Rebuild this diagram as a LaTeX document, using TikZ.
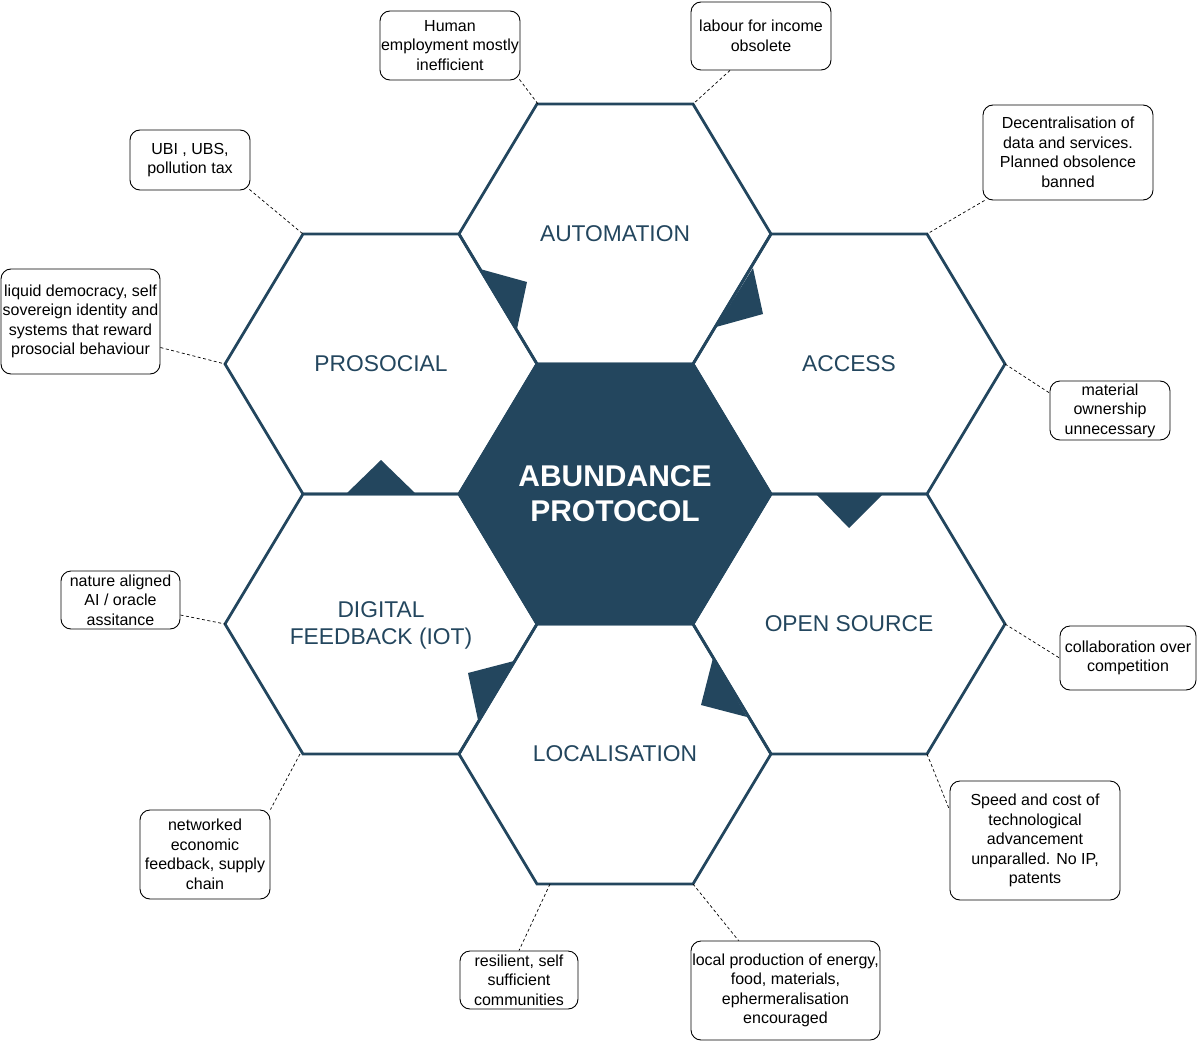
\documentclass[tikz,border=0pt]{standalone}
\usepackage{fontspec}
\setmainfont{Liberation Sans}
\usetikzlibrary{calc}
\definecolor{hexblue}{RGB}{35,70,94}
\newcommand\hexagonat[2][]{\draw[hexline,#1] ($(#2)+(-78,-130)$) -- ++(156,0) -- ++(78,130) -- ++(-78,130) -- ++(-156,0) -- ++(-78,-130) -- cycle;}
\begin{document}
\begin{tikzpicture}[x=1pt,y=-1pt,
  hexline/.style={draw=hexblue,line width=2.8pt,line join=miter},
  notch/.style={fill=hexblue,draw=none},
  box/.style={draw=black,line width=0.9pt,rounded corners=10pt,fill=white,align=center,inner sep=0pt,font=\fontsize{16}{19.5}\selectfont},
  hexlabel/.style={text=hexblue,align=center,font=\fontsize{22.8}{27}\selectfont},
  conn/.style={draw=black,line width=0.7pt,dash pattern=on 3pt off 2.5pt}]
\useasboundingbox (0,0) rectangle (1197,1041);
% hexagon centres
\coordinate (hC) at (615,494);
\coordinate (hA) at (615,234);
\coordinate (hAc) at (849,364);
\coordinate (hO) at (849,624);
\coordinate (hL) at (615,754);
\coordinate (hD) at (381,624);
\coordinate (hP) at (381,364);
% outer hexagons
\hexagonat{hA}
\hexagonat{hAc}
\hexagonat{hO}
\hexagonat{hL}
\hexagonat{hD}
\hexagonat{hP}
% centre hexagon
\hexagonat[fill=hexblue]{hC}
% notches
\fill[notch] (480,269) -- (517,329) -- (527,282) -- cycle;
\fill[notch] (753,268) -- (716,327) -- (763,314) -- cycle;
\fill[notch] (346,494) -- (416,494) -- (381,460) -- cycle;
\fill[notch] (816,494) -- (883,494) -- (849,528) -- cycle;
\fill[notch] (514,661) -- (478,720) -- (468,673) -- cycle;
\fill[notch] (713,658) -- (747,717) -- (701,705) -- cycle;
% labels
\node[text=white,align=center,font=\bfseries\fontsize{30}{35}\selectfont] (center) at (hC) {ABUNDANCE\\PROTOCOL};
\node[hexlabel] (lA) at (hA) {AUTOMATION};
\node[hexlabel] (lAc) at (hAc) {ACCESS};
\node[hexlabel] (lO) at (hO) {OPEN SOURCE};
\node[hexlabel] (lL) at (hL) {LOCALISATION};
\node[hexlabel] (lD) at ($(hD)+(0,1)$) {DIGITAL\\FEEDBACK (IOT)};
\node[hexlabel] (lP) at (hP) {PROSOCIAL};
% vertices used by connectors
\coordinate (autoTL) at (538,104);
\coordinate (autoTR) at (693,104);
\coordinate (accTR) at (927,234);
\coordinate (proTL) at (303,234);
\coordinate (proL) at (225,364);
\coordinate (accR) at (1005,364);
\coordinate (digL) at (225,624);
\coordinate (openR) at (1005,624);
\coordinate (digBL) at (300,754);
\coordinate (openBR) at (927,754);
\coordinate (locB) at (550,884);
\coordinate (locBR) at (693,884);
% boxes
\node[box,minimum width=140pt,minimum height=69pt] (b1) at (450,45.5) {Human\\employment mostly\\inefficient};
\node[box,minimum width=140pt,minimum height=68pt] (b2) at (761,36) {labour for income\\obsolete};
\node[box,minimum width=170pt,minimum height=95pt] (b3) at (1068,152.5) {Decentralisation of\\data and services.\\Planned obsolence\\banned};
\node[box,minimum width=120pt,minimum height=60pt] (b4) at (190,160) {UBI , UBS,\\pollution tax};
\node[box,minimum width=159pt,minimum height=105pt] (b5) at (80.5,321.5) {liquid democracy, self\\sovereign identity and\\systems that reward\\prosocial behaviour};
\node[box,minimum width=120pt,minimum height=59pt] (b6) at (1110,410.5) {material\\ownership\\unnecessary};
\node[box,minimum width=119pt,minimum height=58pt] (b7) at (120.5,600) {nature aligned\\AI / oracle\\assitance};
\node[box,minimum width=136pt,minimum height=64pt] (b8) at (1128,658) {collaboration over\\competition};
\node[box,minimum width=130pt,minimum height=89pt] (b9) at (205,854.5) {networked\\economic\\feedback, supply\\chain};
\node[box,minimum width=170pt,minimum height=119pt] (b10) at (1035,840.5) {Speed and cost of\\technological\\advancement\\unparalled. No IP,\\patents};
\node[box,minimum width=118pt,minimum height=58pt] (b11) at (519,980) {resilient, self\\sufficient\\communities};
\node[box,minimum width=189pt,minimum height=99pt] (b12) at (785.5,990.5) {local production of energy,\\food, materials,\\ephermeralisation\\encouraged};
% connectors
\draw[conn] ($(b1.south east)+(-1,-1)$) -- (autoTL);
\draw[conn] ($(b2.south)+(-31,0)$) -- (autoTR);
\draw[conn] ($(b3.south west)+(2,0)$) -- (accTR);
\draw[conn] ($(b4.south east)+(-1,-1)$) -- (proTL);
\draw[conn] ($(b5.east)+(0,26)$) -- (proL);
\draw[conn] (accR) -- ($(b6.west)+(0,-17.5)$);
\draw[conn] ($(b7.east)+(0,15)$) -- (digL);
\draw[conn] (openR) -- (b8.west);
\draw[conn] (digBL) -- ($(b9.north east)+(0,0)$);
\draw[conn] (openBR) -- ($(b10.west)+(0,-30.5)$);
\draw[conn] (locB) -- (b11.north);
\draw[conn] (locBR) -- ($(b12.north)+(-47,0)$);
\end{tikzpicture}
\end{document}
